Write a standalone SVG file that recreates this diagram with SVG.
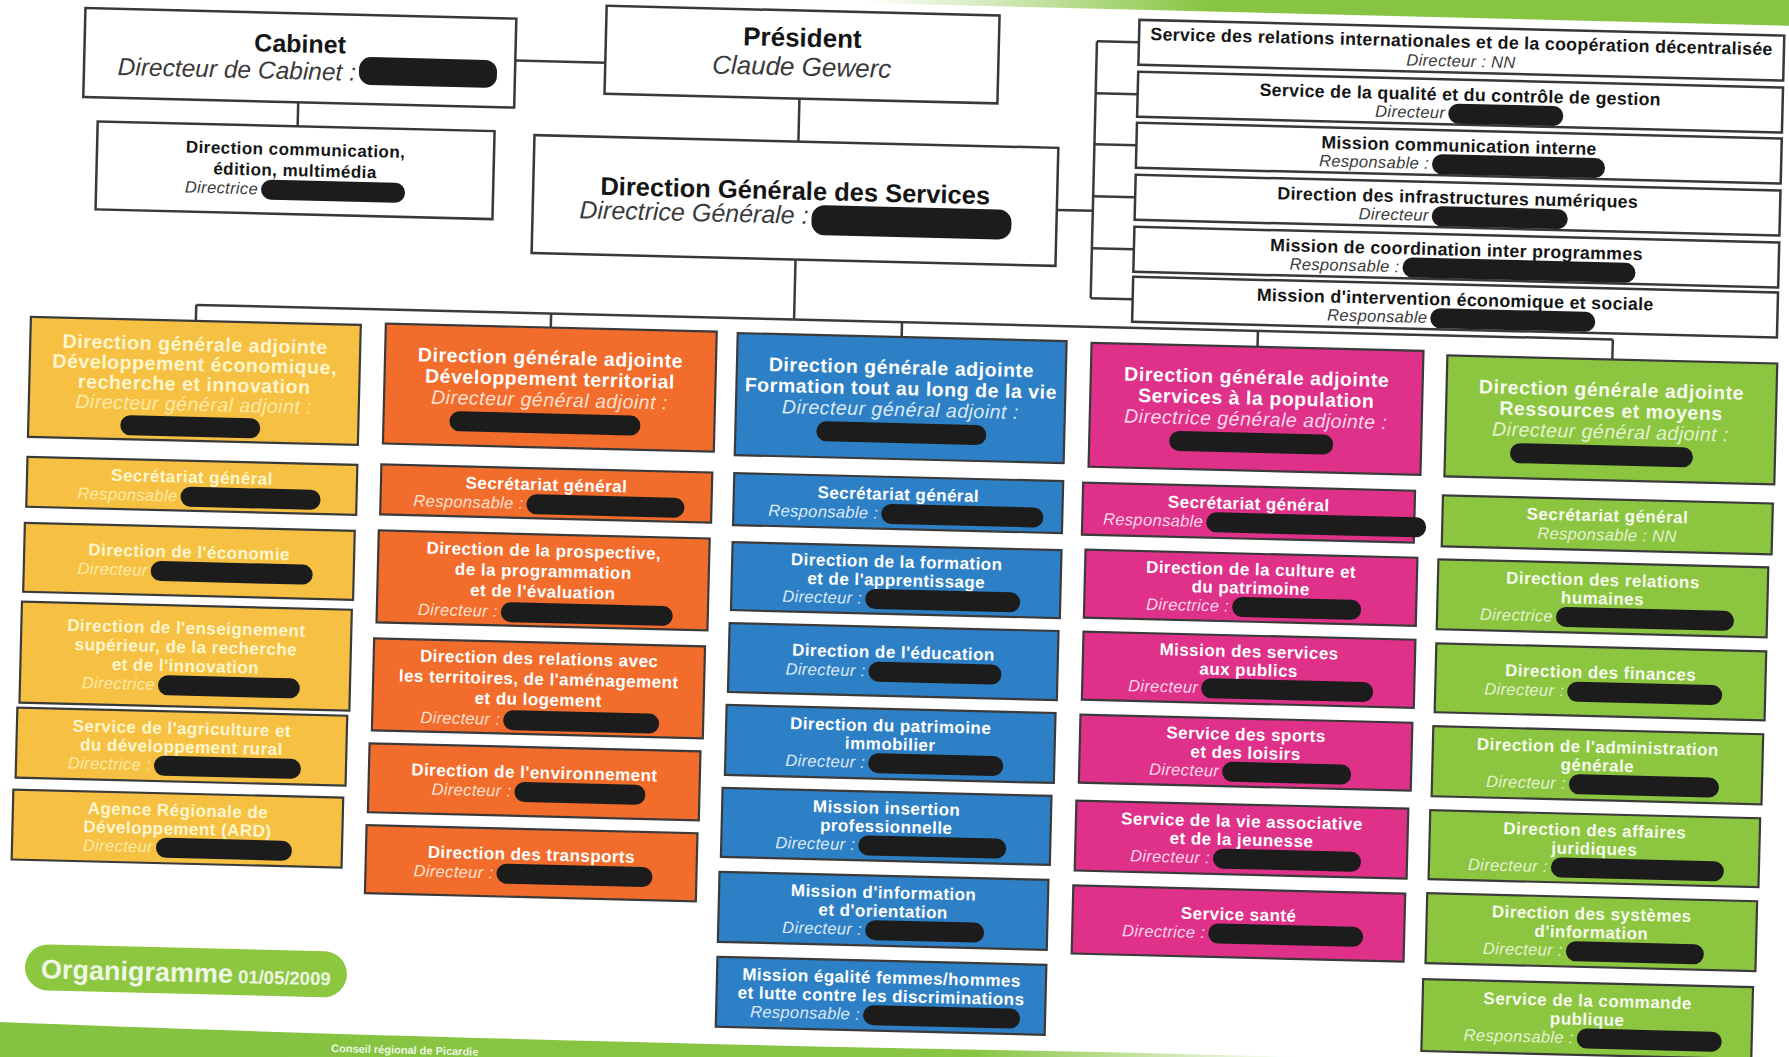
<svg xmlns="http://www.w3.org/2000/svg" width="1789" height="1057" viewBox="0 0 1789 1057">
<defs>
<linearGradient id="gTop" gradientUnits="userSpaceOnUse" x1="850" y1="0" x2="1200" y2="0">
<stop offset="0" stop-color="#86c441" stop-opacity="0"/>
<stop offset="1" stop-color="#86c441"/>
</linearGradient>
<linearGradient id="gBot" gradientUnits="userSpaceOnUse" x1="0" y1="0" x2="1300" y2="0">
<stop offset="0" stop-color="#84c341"/>
<stop offset="0.75" stop-color="#88c543"/>
<stop offset="1" stop-color="#88c543" stop-opacity="0"/>
</linearGradient>
</defs>
<style>
text{font-family:"Liberation Sans",Arial,Helvetica,sans-serif;text-anchor:middle}
.wb{fill:#fff;stroke:#383838;stroke-width:2.5}
.cb{stroke:#3a3a3a;stroke-width:2.2}
.y{fill:#f6c143}.o{fill:#f26c2c}.bl{fill:#2e80c6}.p{fill:#df318a}.g{fill:#8cc540}
.rd{fill:#1c1c1c}
.conn{fill:none;stroke:#3a3a3a;stroke-width:2.5}
.tb{font-weight:bold;font-size:17px;letter-spacing:0.45px}
.ti{font-style:italic;font-size:16.5px;letter-spacing:0.35px}
.rb{font-weight:bold;font-size:17.8px;letter-spacing:0.3px}
.h1{font-weight:bold;font-size:19.5px;letter-spacing:0.55px}
.h1i{font-style:italic;font-size:19.5px;letter-spacing:0.5px}
.e{text-anchor:end}
.k{fill:#151515}.ki{fill:#3a3a3a}
.ty{fill:#fff6cf}.tyi{fill:#fdeaa6}
.tw{fill:#ffffff}.toi{fill:#fde0cf}.tbi{fill:#dbe9f6}.tpi{fill:#fad6e8}
.tg{fill:#f6fbee}.tgi{fill:#e4f2d2}
</style>

<rect x="0" y="0" width="1789" height="1057" fill="#ffffff"/>
<path d="M0,1022 C300,1034 700,1045 1100,1052 L1300,1057 L0,1057 Z" fill="url(#gBot)"/>
<text x="331" y="1052" transform="rotate(1.4 331 1052)" style="font-size:11px;font-weight:bold;text-anchor:start;fill:#eef7e2">Conseil régional de Picardie</text>

<g transform="rotate(1.4 894 528)">
<rect x="700" y="-60" width="1200" height="64" fill="url(#gTop)"/>

<g id="connectors">
<path class="conn" d="M504,70 H594"/>
<path class="conn" d="M288,117 V141"/>
<path class="conn" d="M789,101 V144"/>
<path class="conn" d="M1049,206 H1085"/>
<path class="conn" d="M1085,36.5 V293.5"/>
<path class="conn" d="M1085,36.5 H1127 M1085,88.5 H1127 M1085,139.5 H1127 M1085,191.5 H1127 M1085,243.5 H1127 M1085,293.5 H1127"/>
<path class="conn" d="M789,262 V322"/>
<path class="conn" d="M191,322 H1608"/>
<path class="conn" d="M191,322 V338 M546,322 V336 M897,322 V337 M1253,322 V338 M1608,322 V342"/>
</g>

<g id="cabinet">
<rect class="wb" x="73" y="28" width="431" height="89"/>
<text class="k" x="288.5" y="67" style="font-weight:bold;font-size:25px">Cabinet</text>
<text class="ki e" x="345" y="94" style="font-style:italic;font-size:24.5px">Directeur de Cabinet :</text>
<rect class="rd" x="348" y="70" width="138" height="28" rx="12"/>
</g>

<g id="president">
<rect class="wb" x="594" y="13" width="393" height="88"/>
<text class="k" x="790.5" y="49" style="font-weight:bold;font-size:26px">Président</text>
<text class="ki" x="790.5" y="78" style="font-style:italic;font-size:26px">Claude Gewerc</text>
</g>

<g id="dircom">
<rect class="wb" x="88" y="141" width="397" height="88"/>
<text class="k tb" x="286.5" y="170">Direction communication,</text>
<text class="k tb" x="286.5" y="191">édition, multimédia</text>
<text class="ki ti e" x="250" y="210">Directrice</text>
<rect class="rd" x="253" y="195" width="144" height="20" rx="10"/>
</g>

<g id="dgs">
<rect class="wb" x="525" y="144" width="524" height="118"/>
<text class="k" x="787" y="202" style="font-weight:bold;font-size:25.5px">Direction Générale des Services</text>
<text class="ki e" x="801" y="226" style="font-style:italic;font-size:25px">Directrice Générale :</text>
<rect class="rd" x="804" y="207" width="200" height="30" rx="13"/>
</g>

<g id="r1">
<rect class="wb" x="1127" y="14" width="645" height="45"/>
<text class="k rb" x="1449.5" y="34">Service des relations internationales et de la coopération décentralisée</text>
<text class="ki ti" x="1449.5" y="53">Directeur : NN</text>
</g>
<g id="r2">
<rect class="wb" x="1127" y="66" width="645" height="45"/>
<text class="k rb" x="1449.5" y="87">Service de la qualité et du contrôle de gestion</text>
<text class="ki ti e" x="1435" y="105">Directeur</text>
<rect class="rd" x="1438" y="90" width="115" height="20" rx="10"/>
</g>
<g id="r3">
<rect class="wb" x="1127" y="117" width="645" height="45"/>
<text class="k rb" x="1449.5" y="138">Mission communication interne</text>
<text class="ki ti e" x="1420" y="156">Responsable :</text>
<rect class="rd" x="1423" y="141" width="173" height="20" rx="10"/>
</g>
<g id="r4">
<rect class="wb" x="1127" y="169" width="645" height="45"/>
<text class="k rb" x="1449.5" y="190">Direction des infrastructures numériques</text>
<text class="ki ti e" x="1421" y="208">Directeur</text>
<rect class="rd" x="1424" y="193" width="136" height="20" rx="10"/>
</g>
<g id="r5">
<rect class="wb" x="1127" y="221" width="645" height="45"/>
<text class="k rb" x="1449.5" y="242">Mission de coordination inter programmes</text>
<text class="ki ti e" x="1393" y="260">Responsable :</text>
<rect class="rd" x="1396" y="245" width="233" height="20" rx="10"/>
</g>
<g id="r6">
<rect class="wb" x="1127" y="271" width="645" height="45"/>
<text class="k rb" x="1449.5" y="292">Mission d'intervention économique et sociale</text>
<text class="ki ti e" x="1422" y="310">Responsable</text>
<rect class="rd" x="1425" y="295" width="165" height="20" rx="10"/>
</g>

<!-- Yellow column -->
<g id="dga-eco">
<rect class="cb y" x="26" y="338" width="330" height="120"/>
<text class="h1 ty" x="191" y="368">Direction générale adjointe</text>
<text class="h1 ty" x="191" y="388">Développement économique,</text>
<text class="h1 ty" x="191" y="408">recherche et innovation</text>
<text class="h1i tyi" x="191" y="428">Directeur général adjoint :</text>
<rect class="rd" x="118" y="434" width="140" height="20" rx="10"/>
</g>
<g id="y-sg">
<rect class="cb y" x="26" y="478" width="330" height="50"/>
<text class="tb ty" x="191" y="500">Secrétariat général</text>
<text class="ti tyi e" x="177" y="519">Responsable</text>
<rect class="rd" x="180" y="504" width="140" height="20" rx="10"/>
</g>
<g id="y-eco">
<rect class="cb y" x="25" y="544" width="330" height="69"/>
<text class="tb ty" x="190" y="575">Direction de l'économie</text>
<text class="ti tyi e" x="149" y="594">Directeur</text>
<rect class="rd" x="152" y="579" width="162" height="20" rx="10"/>
</g>
<g id="y-ens">
<rect class="cb y" x="24" y="623" width="330" height="101"/>
<text class="tb ty" x="189" y="651">Direction de l'enseignement</text>
<text class="tb ty" x="189" y="670">supérieur, de la recherche</text>
<text class="tb ty" x="189" y="689">et de l'innovation</text>
<text class="ti tyi e" x="159" y="708">Directrice</text>
<rect class="rd" x="162" y="693" width="142" height="20" rx="10"/>
</g>
<g id="y-agri">
<rect class="cb y" x="22" y="729" width="330" height="70"/>
<text class="tb ty" x="187" y="751.5">Service de l'agriculture et</text>
<text class="tb ty" x="187" y="770">du développement rural</text>
<text class="ti tyi e" x="157" y="788.5">Directrice :</text>
<rect class="rd" x="160" y="773.5" width="147" height="20" rx="10"/>
</g>
<g id="y-ard">
<rect class="cb y" x="20" y="811" width="330" height="70"/>
<text class="tb ty" x="185" y="833.5">Agence Régionale de</text>
<text class="tb ty" x="185" y="852">Développement (ARD)</text>
<text class="ti tyi e" x="161" y="870.5">Directeur</text>
<rect class="rd" x="164" y="855.5" width="136" height="20" rx="10"/>
</g>

<!-- Orange column -->
<g id="dga-terr">
<rect class="cb o" x="381" y="336" width="331" height="120"/>
<text class="h1 tw" x="546.5" y="373">Direction générale adjointe</text>
<text class="h1 tw" x="546.5" y="394">Développement territorial</text>
<text class="h1i toi" x="546.5" y="415">Directeur général adjoint :</text>
<rect class="rd" x="447" y="422" width="191" height="20" rx="10"/>
</g>
<g id="o-sg">
<rect class="cb o" x="380" y="477" width="331" height="50"/>
<text class="tb tw" x="545.5" y="499">Secrétariat général</text>
<text class="ti toi e" x="523" y="518">Responsable :</text>
<rect class="rd" x="526" y="503" width="158" height="20" rx="10"/>
</g>
<g id="o-prosp">
<rect class="cb o" x="379" y="543" width="331" height="92"/>
<text class="tb tw" x="544.5" y="565">Direction de la prospective,</text>
<text class="tb tw" x="544.5" y="585.5">de la programmation</text>
<text class="tb tw" x="544.5" y="606">et de l'évaluation</text>
<text class="ti toi e" x="500" y="626.5">Directeur :</text>
<rect class="rd" x="503" y="611.5" width="172" height="20" rx="10"/>
</g>
<g id="o-terr">
<rect class="cb o" x="377" y="651" width="331" height="92"/>
<text class="tb tw" x="542.5" y="673">Direction des relations avec</text>
<text class="tb tw" x="542.5" y="693.5">les territoires, de l'aménagement</text>
<text class="tb tw" x="542.5" y="714">et du logement</text>
<text class="ti toi e" x="505" y="734.5">Directeur :</text>
<rect class="rd" x="508" y="719.5" width="156" height="20" rx="10"/>
</g>
<g id="o-env">
<rect class="cb o" x="375" y="756" width="331" height="69"/>
<text class="tb tw" x="540.5" y="787">Direction de l'environnement</text>
<text class="ti toi e" x="518" y="806">Directeur :</text>
<rect class="rd" x="521" y="791" width="131" height="20" rx="10"/>
</g>
<g id="o-transp">
<rect class="cb o" x="374" y="838" width="331" height="68"/>
<text class="tb tw" x="539.5" y="869">Direction des transports</text>
<text class="ti toi e" x="502" y="888">Directeur :</text>
<rect class="rd" x="505" y="873" width="156" height="20" rx="10"/>
</g>

<!-- Blue column -->
<g id="dga-form">
<rect class="cb bl" x="733" y="337" width="329" height="122"/>
<text class="h1 tw" x="897.5" y="374">Direction générale adjointe</text>
<text class="h1 tw" x="897.5" y="395">Formation tout au long de la vie</text>
<text class="h1i tbi" x="897.5" y="416">Directeur général adjoint :</text>
<rect class="rd" x="814" y="423" width="170" height="20" rx="10"/>
</g>
<g id="b-sg">
<rect class="cb bl" x="733" y="477" width="329" height="52"/>
<text class="tb tw" x="897.5" y="500">Secrétariat général</text>
<text class="ti tbi e" x="878" y="519">Responsable :</text>
<rect class="rd" x="881" y="504" width="162" height="20" rx="10"/>
</g>
<g id="b-form">
<rect class="cb bl" x="733" y="546" width="329" height="68"/>
<text class="tb tw" x="897.5" y="567.5">Direction de la formation</text>
<text class="tb tw" x="897.5" y="586">et de l'apprentissage</text>
<text class="ti tbi e" x="864" y="604.5">Directeur :</text>
<rect class="rd" x="867" y="589.5" width="155" height="20" rx="10"/>
</g>
<g id="b-edu">
<rect class="cb bl" x="732" y="627" width="329" height="69"/>
<text class="tb tw" x="896.5" y="658">Direction de l'éducation</text>
<text class="ti tbi e" x="869" y="677">Directeur :</text>
<rect class="rd" x="872" y="662" width="133" height="20" rx="10"/>
</g>
<g id="b-patr">
<rect class="cb bl" x="731" y="709" width="329" height="70"/>
<text class="tb tw" x="895.5" y="731.5">Direction du patrimoine</text>
<text class="tb tw" x="895.5" y="750">immobilier</text>
<text class="ti tbi e" x="871" y="768.5">Directeur :</text>
<rect class="rd" x="874" y="753.5" width="135" height="20" rx="10"/>
</g>
<g id="b-ins">
<rect class="cb bl" x="729" y="792" width="329" height="69"/>
<text class="tb tw" x="893.5" y="814">Mission insertion</text>
<text class="tb tw" x="893.5" y="832.5">professionnelle</text>
<text class="ti tbi e" x="863" y="851">Directeur :</text>
<rect class="rd" x="866" y="836" width="148" height="20" rx="10"/>
</g>
<g id="b-info">
<rect class="cb bl" x="728" y="876" width="329" height="70"/>
<text class="tb tw" x="892.5" y="898.5">Mission d'information</text>
<text class="tb tw" x="892.5" y="917">et d'orientation</text>
<text class="ti tbi e" x="872" y="935.5">Directeur :</text>
<rect class="rd" x="875" y="920.5" width="119" height="20" rx="10"/>
</g>
<g id="b-ega">
<rect class="cb bl" x="728" y="961" width="329" height="70"/>
<text class="tb tw" x="892.5" y="983.5">Mission égalité femmes/hommes</text>
<text class="tb tw" x="892.5" y="1002">et lutte contre les discriminations</text>
<text class="ti tbi e" x="872" y="1020.5">Responsable :</text>
<rect class="rd" x="875" y="1005.5" width="157" height="20" rx="10"/>
</g>

<!-- Pink column -->
<g id="dga-pop">
<rect class="cb p" x="1087" y="338" width="332" height="124"/>
<text class="h1 tw" x="1253" y="375">Direction générale adjointe</text>
<text class="h1 tw" x="1253" y="396">Services à la population</text>
<text class="h1i tpi" x="1253" y="417">Directrice générale adjointe :</text>
<rect class="rd" x="1167" y="424" width="164" height="20" rx="10"/>
</g>
<g id="p-sg">
<rect class="cb p" x="1082" y="478" width="332" height="52"/>
<text class="tb tw" x="1248" y="500.75">Secrétariat général</text>
<text class="ti tpi e" x="1203" y="519.5">Responsable</text>
<rect class="rd" x="1206" y="504.5" width="220" height="20" rx="10"/>
</g>
<g id="p-cult">
<rect class="cb p" x="1086" y="545" width="332" height="68"/>
<text class="tb tw" x="1252" y="566.5">Direction de la culture et</text>
<text class="tb tw" x="1252" y="585">du patrimoine</text>
<text class="ti tpi e" x="1231" y="603.5">Directrice :</text>
<rect class="rd" x="1234" y="588.5" width="129" height="20" rx="10"/>
</g>
<g id="p-pub">
<rect class="cb p" x="1086" y="627" width="332" height="68"/>
<text class="tb tw" x="1252" y="648.5">Mission des services</text>
<text class="tb tw" x="1252" y="667">aux publics</text>
<text class="ti tpi e" x="1202" y="685.5">Directeur</text>
<rect class="rd" x="1205" y="670.5" width="172" height="20" rx="10"/>
</g>
<g id="p-sport">
<rect class="cb p" x="1085" y="710" width="332" height="68"/>
<text class="tb tw" x="1251" y="731.5">Service des sports</text>
<text class="tb tw" x="1251" y="750">et des loisirs</text>
<text class="ti tpi e" x="1225" y="768.5">Directeur</text>
<rect class="rd" x="1228" y="753.5" width="129" height="20" rx="10"/>
</g>
<g id="p-asso">
<rect class="cb p" x="1083" y="796" width="332" height="70"/>
<text class="tb tw" x="1249" y="818.5">Service de la vie associative</text>
<text class="tb tw" x="1249" y="837">et de la jeunesse</text>
<text class="ti tpi e" x="1218" y="855.5">Directeur :</text>
<rect class="rd" x="1221" y="840.5" width="148" height="20" rx="10"/>
</g>
<g id="p-sante">
<rect class="cb p" x="1082" y="881" width="332" height="68"/>
<text class="tb tw" x="1248" y="911.75">Service santé</text>
<text class="ti tpi e" x="1215" y="930.5">Directrice :</text>
<rect class="rd" x="1218" y="915.5" width="155" height="20" rx="10"/>
</g>

<!-- Green column -->
<g id="dga-res">
<rect class="cb g" x="1443" y="342" width="330" height="121"/>
<text class="h1 tg" x="1608" y="379">Direction générale adjointe</text>
<text class="h1 tg" x="1608" y="400">Ressources et moyens</text>
<text class="h1i tgi" x="1608" y="421">Directeur général adjoint :</text>
<rect class="rd" x="1508" y="428" width="183" height="20" rx="10"/>
</g>
<g id="g-sg">
<rect class="cb g" x="1442" y="482" width="330" height="51"/>
<text class="tb tg" x="1607" y="504">Secrétariat général</text>
<text class="ti tgi" x="1607" y="523">Responsable : NN</text>
</g>
<g id="g-rh">
<rect class="cb g" x="1439" y="546" width="330" height="70"/>
<text class="tb tg" x="1604" y="568.5">Direction des relations</text>
<text class="tb tg" x="1604" y="587">humaines</text>
<text class="ti tgi e" x="1555" y="605.5">Directrice</text>
<rect class="rd" x="1558" y="590.5" width="178" height="20" rx="10"/>
</g>
<g id="g-fin">
<rect class="cb g" x="1439" y="630" width="330" height="69"/>
<text class="tb tg" x="1604" y="661">Direction des finances</text>
<text class="ti tgi e" x="1568" y="680">Directeur :</text>
<rect class="rd" x="1571" y="665" width="155" height="20" rx="10"/>
</g>
<g id="g-adm">
<rect class="cb g" x="1438" y="713" width="330" height="70"/>
<text class="tb tg" x="1603" y="735.5">Direction de l'administration</text>
<text class="tb tg" x="1603" y="754">générale</text>
<text class="ti tgi e" x="1572" y="772.5">Directeur :</text>
<rect class="rd" x="1575" y="757.5" width="150" height="20" rx="10"/>
</g>
<g id="g-jur">
<rect class="cb g" x="1437" y="797" width="330" height="69"/>
<text class="tb tg" x="1602" y="819">Direction des affaires</text>
<text class="tb tg" x="1602" y="837.5">juridiques</text>
<text class="ti tgi e" x="1556" y="856">Directeur :</text>
<rect class="rd" x="1559" y="841" width="173" height="20" rx="10"/>
</g>
<g id="g-sys">
<rect class="cb g" x="1436" y="880" width="330" height="70"/>
<text class="tb tg" x="1601" y="902.5">Direction des systèmes</text>
<text class="tb tg" x="1601" y="921">d'information</text>
<text class="ti tgi e" x="1573" y="939.5">Directeur :</text>
<rect class="rd" x="1576" y="924.5" width="138" height="20" rx="10"/>
</g>
<g id="g-com">
<rect class="cb g" x="1434" y="966" width="330" height="72"/>
<text class="tb tg" x="1599" y="989.5">Service de la commande</text>
<text class="tb tg" x="1599" y="1008">publique</text>
<text class="ti tgi e" x="1586" y="1026.5">Responsable :</text>
<rect class="rd" x="1589" y="1011.5" width="145" height="20" rx="10"/>
</g>

<g id="title">
<rect x="36" y="965" width="322" height="46" rx="23" fill="#8dc63f"/>
<text x="52" y="999" style="text-anchor:start;font-weight:bold;font-size:27px;fill:#eef6e4">Organigramme<tspan style="font-size:18.5px"> 01/05/2009</tspan></text>
</g>
</g>
</svg>
